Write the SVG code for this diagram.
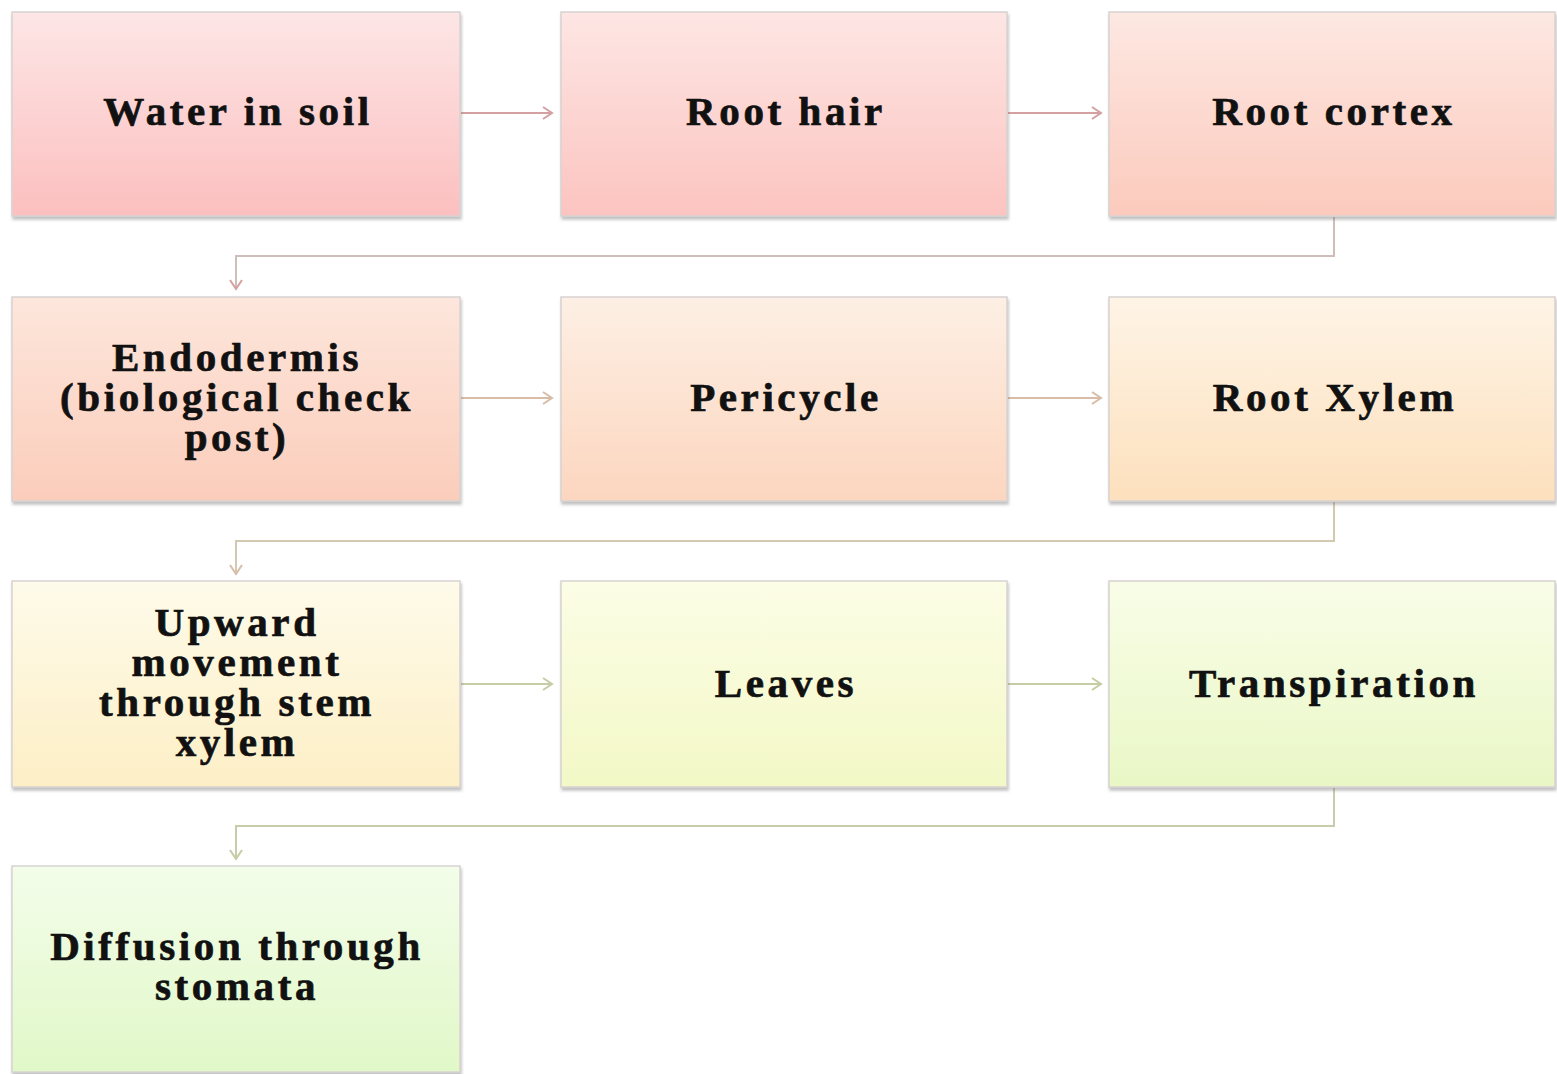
<svg xmlns="http://www.w3.org/2000/svg" width="1557" height="1074" viewBox="0 0 1557 1074">
<defs>
<linearGradient id="g1" x1="0" y1="0" x2="0" y2="1"><stop offset="0" stop-color="#fde6e6"/><stop offset="1" stop-color="#fcbfbf"/></linearGradient>
<linearGradient id="g2" x1="0" y1="0" x2="0" y2="1"><stop offset="0" stop-color="#fde6e4"/><stop offset="1" stop-color="#fcc4c0"/></linearGradient>
<linearGradient id="g3" x1="0" y1="0" x2="0" y2="1"><stop offset="0" stop-color="#fde8e2"/><stop offset="1" stop-color="#fccabd"/></linearGradient>
<linearGradient id="g4" x1="0" y1="0" x2="0" y2="1"><stop offset="0" stop-color="#fde6dc"/><stop offset="1" stop-color="#fbcdbb"/></linearGradient>
<linearGradient id="g5" x1="0" y1="0" x2="0" y2="1"><stop offset="0" stop-color="#fdefe4"/><stop offset="1" stop-color="#fcd6bf"/></linearGradient>
<linearGradient id="g6" x1="0" y1="0" x2="0" y2="1"><stop offset="0" stop-color="#fef4e6"/><stop offset="1" stop-color="#fde0bd"/></linearGradient>
<linearGradient id="g7" x1="0" y1="0" x2="0" y2="1"><stop offset="0" stop-color="#fefbea"/><stop offset="1" stop-color="#fdefc6"/></linearGradient>
<linearGradient id="g8" x1="0" y1="0" x2="0" y2="1"><stop offset="0" stop-color="#fcfde6"/><stop offset="1" stop-color="#f3f8c6"/></linearGradient>
<linearGradient id="g9" x1="0" y1="0" x2="0" y2="1"><stop offset="0" stop-color="#f9fde8"/><stop offset="1" stop-color="#e9f7c6"/></linearGradient>
<linearGradient id="g10" x1="0" y1="0" x2="0" y2="1"><stop offset="0" stop-color="#f3fdea"/><stop offset="1" stop-color="#e1f8c8"/></linearGradient>
<marker id="a1" markerWidth="14" markerHeight="14" refX="11" refY="7" orient="auto" markerUnits="userSpaceOnUse"><path d="M2,1 L11,7 L2,13" fill="none" stroke="#d4a0a2" stroke-width="2"/></marker>
<marker id="a2" markerWidth="14" markerHeight="14" refX="11" refY="7" orient="auto" markerUnits="userSpaceOnUse"><path d="M2,1 L11,7 L2,13" fill="none" stroke="#d8bca8" stroke-width="2"/></marker>
<marker id="a3" markerWidth="14" markerHeight="14" refX="11" refY="7" orient="auto" markerUnits="userSpaceOnUse"><path d="M2,1 L11,7 L2,13" fill="none" stroke="#c6cca4" stroke-width="2"/></marker>
<filter id="sh" x="-5%" y="-5%" width="110%" height="115%"><feDropShadow dx="1" dy="3" stdDeviation="1.5" flood-color="#777" flood-opacity="0.45"/></filter>
</defs>
<style>
.box{stroke:#d8d2d2;stroke-width:1.5;filter:url(#sh)}
.t{font-family:"Liberation Serif","Times New Roman",serif;font-weight:bold;font-size:41px;letter-spacing:3.6px;fill:#111;stroke:#111;stroke-width:0.7px;text-anchor:middle}
.c1{fill:none;stroke:#d4a0a2;stroke-width:2;marker-end:url(#a1)}
.c2{fill:none;stroke:#d8bca8;stroke-width:2;marker-end:url(#a2)}
.c3{fill:none;stroke:#c6cca4;stroke-width:2;marker-end:url(#a3)}
.b1{fill:none;stroke:#cfbdb8;stroke-width:2;marker-end:url(#a1)}
.b2{fill:none;stroke:#d3c9b0;stroke-width:2;marker-end:url(#a2)}
.b3{fill:none;stroke:#c8ccaa;stroke-width:2;marker-end:url(#a3)}
</style>
<rect width="1557" height="1074" fill="#ffffff"/>
<g id="connectors">
<path class="c1" d="M461,113 H552"/>
<path class="c1" d="M1008,113 H1101"/>
<path class="b1" d="M1334,217 V256 H236 V289"/>
<path class="c2" d="M461,398 H552"/>
<path class="c2" d="M1008,398 H1101"/>
<path class="b2" d="M1334,502 V541 H236 V574"/>
<path class="c3" d="M461,684 H552"/>
<path class="c3" d="M1008,684 H1101"/>
<path class="b3" d="M1334,788 V826 H236 V859"/>
</g>
<g id="n1"><rect class="box" x="12" y="12" width="448" height="204" fill="url(#g1)"/><text class="t" x="238" y="125">Water in soil</text></g>
<g id="n2"><rect class="box" x="561" y="12" width="446" height="204" fill="url(#g2)"/><text class="t" x="786" y="125">Root hair</text></g>
<g id="n3"><rect class="box" x="1109" y="12" width="446" height="204" fill="url(#g3)"/><text class="t" x="1334" y="125">Root cortex</text></g>
<g id="n4"><rect class="box" x="12" y="297" width="448" height="204" fill="url(#g4)"/><text class="t" x="237" y="371">Endodermis</text><text class="t" x="237" y="411">(biological check</text><text class="t" x="237" y="451">post)</text></g>
<g id="n5"><rect class="box" x="561" y="297" width="446" height="204" fill="url(#g5)"/><text class="t" x="786" y="411">Pericycle</text></g>
<g id="n6"><rect class="box" x="1109" y="297" width="446" height="204" fill="url(#g6)"/><text class="t" x="1335" y="411">Root Xylem</text></g>
<g id="n7"><rect class="box" x="12" y="581" width="448" height="206" fill="url(#g7)"/><text class="t" x="237" y="636">Upward</text><text class="t" x="237" y="676">movement</text><text class="t" x="237" y="716">through stem</text><text class="t" x="237" y="756">xylem</text></g>
<g id="n8"><rect class="box" x="561" y="581" width="446" height="206" fill="url(#g8)"/><text class="t" x="786" y="697">Leaves</text></g>
<g id="n9"><rect class="box" x="1109" y="581" width="446" height="206" fill="url(#g9)"/><text class="t" x="1334" y="697">Transpiration</text></g>
<g id="n10"><rect class="box" x="12" y="866" width="448" height="206" fill="url(#g10)"/><text class="t" x="237" y="960">Diffusion through</text><text class="t" x="237" y="1000">stomata</text></g>
</svg>
